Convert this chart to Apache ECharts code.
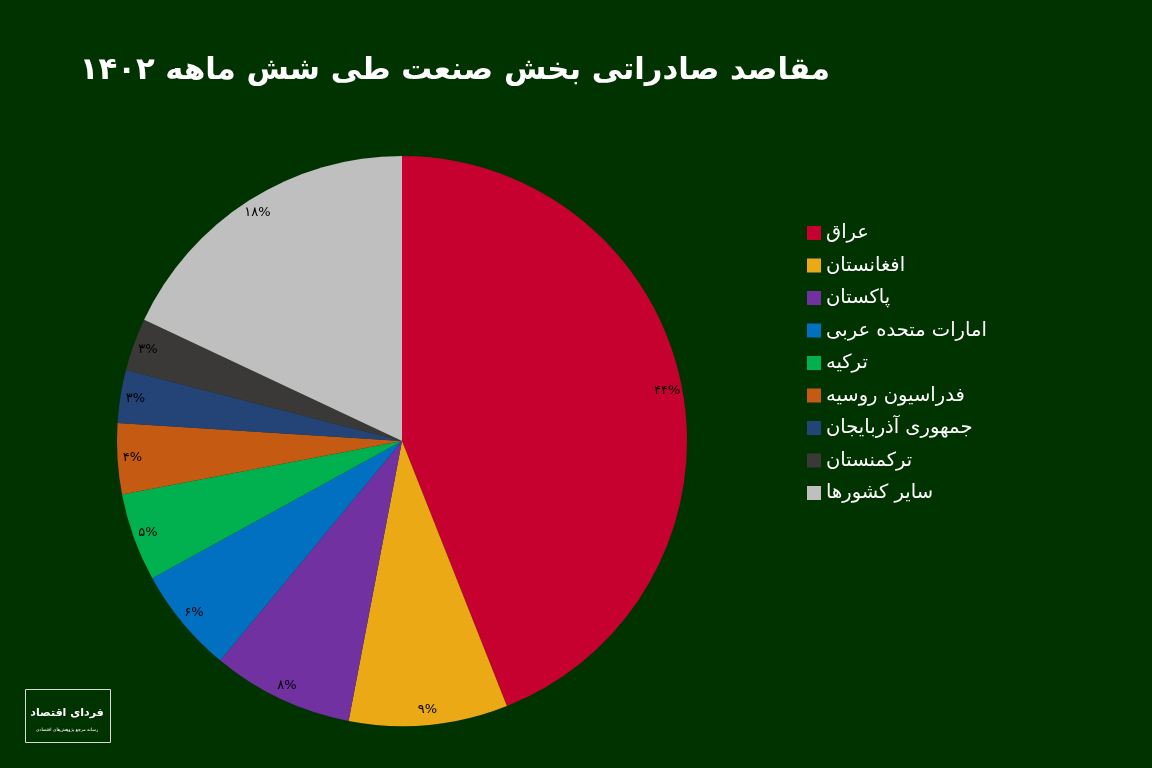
<!DOCTYPE html>
<html>
<head>
<meta charset="utf-8">
<script src="https://cdn.jsdelivr.net/npm/echarts@6/dist/echarts.min.js"></script>
<style>
html,body{margin:0;padding:0;background:#013300;}
#c{width:1152px;height:768px;}
</style>
</head>
<body>
<div id="c"></div>
<script>
var titleText = 'مقاصد صادراتی بخش صنعت طی شش ماهه ۱۴۰۲';
var categories = ['عراق','افغانستان','پاکستان','امارات متحده عربی','ترکیه','فدراسیون روسیه','جمهوری آذربایجان','ترکمنستان','سایر کشورها'];
var values = [44, 9, 8, 6, 5, 4, 3, 3, 18];
var colors = ['#c6002f','#eca916','#7231a0','#0170c1','#01b04f','#c55a12','#244478','#3b3838','#bfbfbf'];

function toFa(s){ return String(s).replace(/[0-9]/g, function(d){ return '۰۱۲۳۴۵۶۷۸۹'[+d]; }); }

var pieData = categories.map(function(n,i){ return {name:n, value:values[i], itemStyle:{color:colors[i]}}; });
var labelData = categories.map(function(n,i){ return {name:n, value:values[i]}; });

var chart = echarts.init(document.getElementById('c'), null, {renderer:'canvas'});
chart.setOption({
  backgroundColor:'#013300',
  animation:false,
  title:{
    text:titleText,
    right:317, top:51,
    textStyle:{color:'#ffffff', fontSize:30.7, fontWeight:'bold', fontFamily:'DejaVu Sans'}
  },
  legend:{
    orient:'vertical',
    left:802, top:218,
    itemWidth:14, itemHeight:14, itemGap:12.5,
    icon:'rect',
    data:categories,
    textStyle:{color:'#ffffff', fontSize:19.5, fontFamily:'DejaVu Sans'},
    selectedMode:false
  },
  series:[
    {
      type:'pie',
      center:[402,441],
      radius:[0,285],
      startAngle:90,
      clockwise:true,
      silent:true,
      data:pieData,
      label:{show:false},
      labelLine:{show:false}
    },
    {
      type:'pie',
      center:[402,441],
      radius:[249,285],
      startAngle:90,
      clockwise:true,
      silent:true,
      data:labelData,
      itemStyle:{color:'rgba(0,0,0,0)'},
      label:{show:true, position:'inside', color:'#000000', fontSize:13, fontFamily:'DejaVu Sans',
        formatter:function(p){ return toFa(p.value) + '%'; }},
      labelLine:{show:false}
    }
  ],
  graphic:[
    {type:'rect', left:25, top:689, shape:{width:85, height:53}, style:{fill:'rgba(0,0,0,0)', stroke:'#d8d8d8', lineWidth:1}},
    {type:'text', x:67, y:713, style:{text:'فردای اقتصاد', fill:'#ffffff', fontSize:11, fontWeight:'bold', fontFamily:'DejaVu Sans', align:'center', verticalAlign:'middle'}},
    {type:'text', x:67, y:730, style:{text:'رسانه مرجع پژوهش‌های اقتصادی', fill:'#ffffff', fontSize:4.5, fontFamily:'DejaVu Sans', align:'center', verticalAlign:'middle'}}
  ]
});
</script>
</body>
</html>
